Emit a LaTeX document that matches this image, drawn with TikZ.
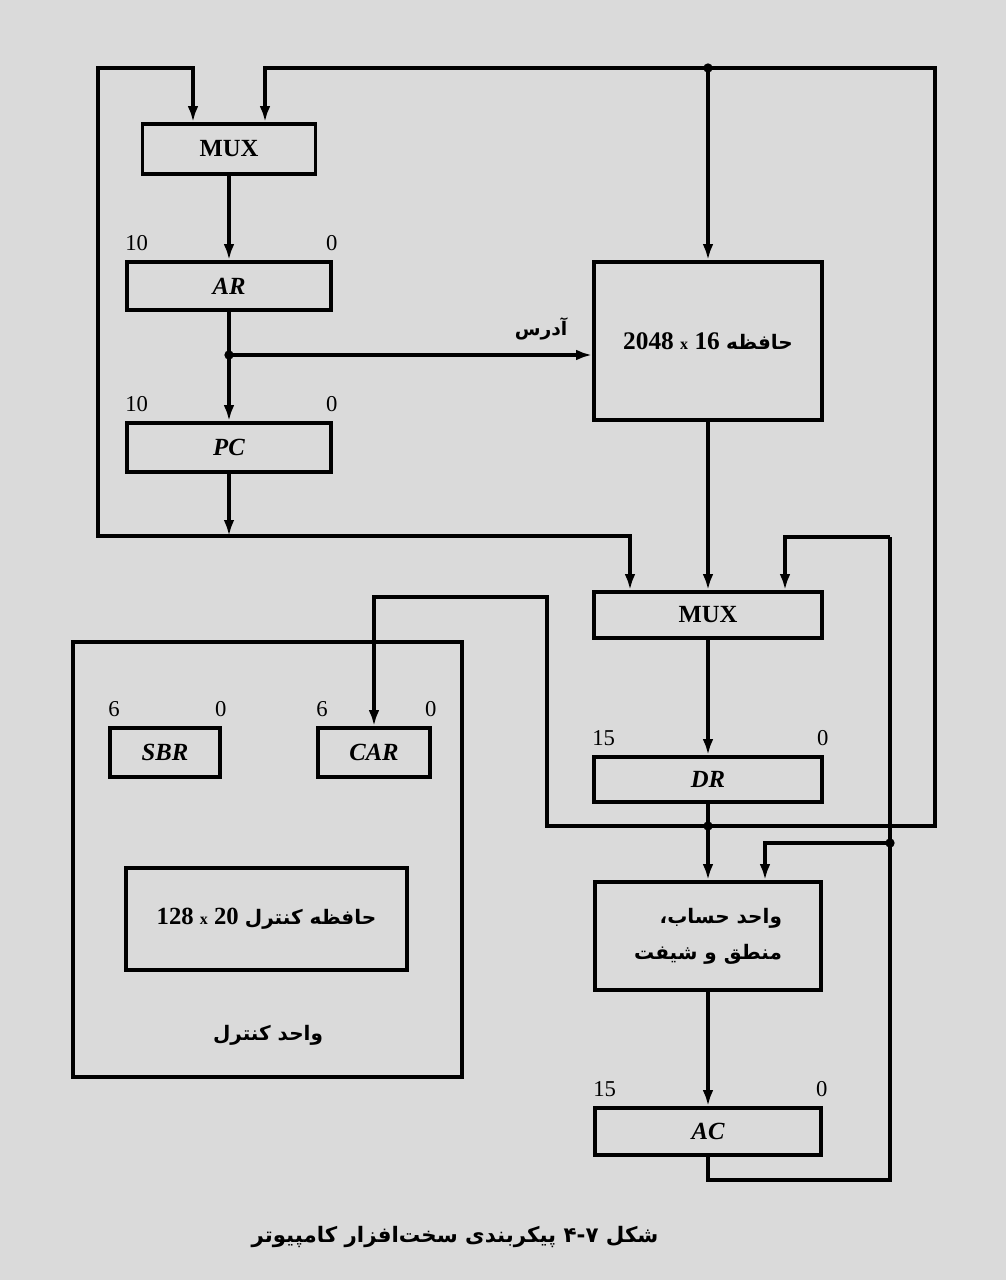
\documentclass[tikz,border=0pt]{standalone}
\usepackage{fontspec}
\setmainfont{Liberation Serif}
\newfontfamily\fa[Script=Arabic]{DejaVu Sans}
\TeXXeTstate=1
\usetikzlibrary{arrows.meta,calc}
\definecolor{bg}{RGB}{218,218,218}
\tikzset{
  connline/.style={draw,line width=2.8pt,line join=miter},
  connarr/.style={draw,line width=2.8pt,line join=miter,-{Latex[length=12pt,width=8pt]}},
  regbox/.style={draw,line width=2.8pt,inner sep=0pt,font=\fontsize{18.5}{20}\selectfont\bfseries},
  bitnum/.style={inner sep=0pt,font=\fontsize{17}{19}\selectfont},
  junction/.style={circle,fill,inner sep=0pt,minimum size=7pt},
  fatext/.style={inner sep=0pt,font=\fa\bfseries\fontsize{15}{24}\selectfont}
}
\begin{document}
\begin{tikzpicture}[x=0.75pt,y=-0.75pt]
\fill[bg] (0,0) rectangle (1006,1280);
\useasboundingbox (0,0) rectangle (1006,1280);

% boxes
\node[regbox,minimum width=129.75pt,minimum height=37.5pt] (mux1) at (229,149) {MUX};
\node[regbox,minimum width=153pt,minimum height=36pt] (ar) at (229,286) {\itshape AR};
\node[regbox,minimum width=153pt,minimum height=36.75pt] (pc) at (229,447.5) {\itshape PC};
\node[regbox,minimum width=171pt,minimum height=118.5pt,font=\fontsize{19}{20}\selectfont\bfseries] (mem) at (708,341)
  {2048 {\fontsize{12}{12}\selectfont x} 16 {\fa\bfseries\fontsize{15}{20}\selectfont\beginR حافظه\endR}};
\node[regbox,minimum width=171pt,minimum height=34.5pt] (mux2) at (708,615) {MUX};
\node[regbox,minimum width=171pt,minimum height=33.75pt] (dr) at (708,779.5) {\itshape DR};
\node[regbox,minimum width=169.5pt,minimum height=81pt,align=right,font=\fa\bfseries\fontsize{15}{27}\selectfont] (alu) at (708,936)
  {\beginR واحد حساب،\endR\\\beginR منطق و شیفت\endR};
\node[regbox,minimum width=169.5pt,minimum height=35.25pt] (ac) at (708,1131.5) {\itshape AC};

\node[regbox,minimum width=291.75pt,minimum height=326.25pt] (cu) at (267.5,859.5) {};
\node[regbox,minimum width=82.5pt,minimum height=36.75pt] (sbr) at (165,752.5) {\itshape SBR};
\node[regbox,minimum width=84pt,minimum height=36.75pt] (car) at (374,752.5) {\itshape CAR};
\node[regbox,minimum width=210.75pt,minimum height=76.5pt] (cm) at (266.5,919)
  {128 {\fontsize{12}{12}\selectfont x} 20 {\fa\bfseries\fontsize{15}{20}\selectfont\beginR حافظه کنترل\endR}};
\node[fatext] (cul) at (268,1035) {\beginR واحد کنترل\endR};

% bit numbers
\foreach \b/\l/\r in {ar/10/0,pc/10/0,dr/15/0,ac/15/0,sbr/6/0,car/6/0}{
  \node[bitnum,anchor=south west] (\b l) at ($(\b.north west)+(0,-9)$) {\l};
  \node[bitnum,anchor=south] (\b r) at ($(\b.north east)+(-1,-9)$) {\r};
}

% helper coordinates
\coordinate (m1a) at ($(mux1.north)+(-36,0)$);
\coordinate (m1b) at ($(mux1.north)+(36,0)$);
\coordinate (m2a) at ($(mux2.north)+(-78,0)$);
\coordinate (m2c) at ($(mux2.north)+(77,0)$);
\coordinate (alub) at ($(alu.north)+(57,0)$);
\coordinate (jA) at (229,355);
\coordinate (jL) at (229,536);
\coordinate (cLB) at (98,536);
\coordinate (cLT) at (98,68);
\coordinate (jT) at (708,68);
\coordinate (cRT) at (935,68);
\coordinate (cRB) at (935,826);
\coordinate (jD) at (708,826);
\coordinate (cC1) at (547,826);
\coordinate (cC2) at (547,597);
\coordinate (cA1) at (708,1180);
\coordinate (cA2) at (890,1180);
\coordinate (cA3) at (890,537);
\coordinate (jB) at (890,843);

% connectors
\path[connarr] (mux1.south) -- (ar.north);
\path[connarr] (ar.south) -- (pc.north);
\path[connarr] (jA) -- (jA -| mem.west);
\node[fatext,font=\fa\bfseries\fontsize{14}{20}\selectfont] (addr) at (541,329) {\beginR آدرس\endR};
\path[connarr] (pc.south) -- (jL);
\path[connarr] (jL) -- (cLB) -- (cLT) -- (cLT -| m1a) -- (m1a);
\path[connarr] (jL) -- (jL -| m2a) -- (m2a);

\path[connarr] (jT) -- (jT -| m1b) -- (m1b);
\path[connarr] (jT) -- (mem.north);
\path[connline] (jD) -- (cRB) -- (cRT) -- (jT);
\path[connarr] (jD) -- (cC1) -- (cC2) -- (cC2 -| car.north) -- (car.north);

\path[connarr] (mem.south) -- (mux2.north);
\path[connarr] (mux2.south) -- (dr.north);
\path[connarr] (dr.south) -- (alu.north);
\path[connarr] (alu.south) -- (ac.north);

\path[connline] (ac.south) -- (cA1) -- (cA2) -- (cA3);
\path[connarr] (cA3) -- (cA3 -| m2c) -- (m2c);
\path[connarr] (jB) -- (jB -| alub) -- (alub);

\foreach \p in {jA,jT,jD,jB} \node[junction] at (\p) {};

% caption
\node[fatext,font=\fa\bfseries\fontsize{16}{20}\selectfont] (cap) at (455,1237)
  {\beginR شکل ۴-۷ پیکربندی سخت‌افزار کامپیوتر\endR};
\end{tikzpicture}
\end{document}
